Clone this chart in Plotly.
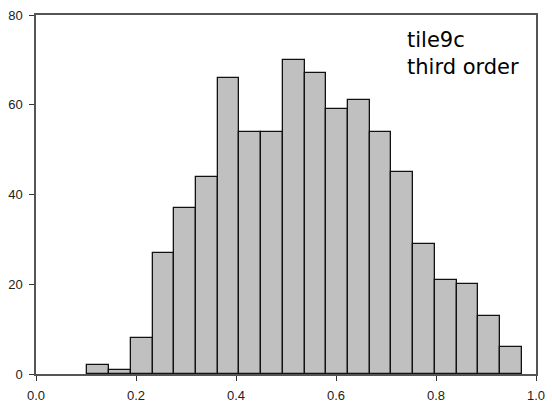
import numpy as np
import plotly.graph_objects as go

# Histogram counts, 20 equal-width bins
counts = [2, 1, 8, 27, 37, 44, 66, 54, 54, 70, 67, 59, 61, 54, 45, 29, 21, 20, 13, 6]
bin_start = 0.1027
bin_width = 0.04344

x_ticks = [0.0, 0.2, 0.4, 0.6, 0.8, 1.0]
x_tick_labels = ["0.0", "0.2", "0.4", "0.6", "0.8", "1.0"]
y_ticks = [0, 20, 40, 60, 80]
y_tick_labels = ["0", "20", "40", "60", "80"]

centers = bin_start + bin_width * (np.arange(len(counts)) + 0.5)

fig = go.Figure()
fig.add_trace(go.Bar(
    x=centers,
    y=counts,
    width=bin_width,
    marker=dict(color="#c0c0c0", line=dict(color="#111111", width=1.3)),
    showlegend=False,
))

axis_common = dict(
    showline=True, linecolor="#555555", linewidth=1.5, mirror=True,
    ticks="outside", ticklen=5, tickwidth=1.2, tickcolor="#333333",
    showgrid=False, zeroline=False, automargin=False,
    tickfont=dict(family="Liberation Sans, Arial, sans-serif", size=13, color="#222222"),
)

fig.update_xaxes(range=[0, 1], tickvals=x_ticks, ticktext=x_tick_labels,
                 ticklabelstandoff=4, **axis_common)
fig.update_yaxes(range=[0, 80], tickvals=y_ticks, ticktext=y_tick_labels,
                 ticklabelstandoff=4, **axis_common)

fig.add_annotation(
    x=0.738, y=0.97, xref="paper", yref="paper",
    xanchor="left", yanchor="top", align="left", showarrow=False,
    text="tile9c<br>third order",
    font=dict(family="DejaVu Sans, sans-serif", size=21, color="#000000"),
)

fig.update_layout(
    width=552, height=409,
    margin=dict(l=36, r=16, t=15, b=35),
    paper_bgcolor="white", plot_bgcolor="white",
    bargap=0,
)

fig.write_html("out.html")
